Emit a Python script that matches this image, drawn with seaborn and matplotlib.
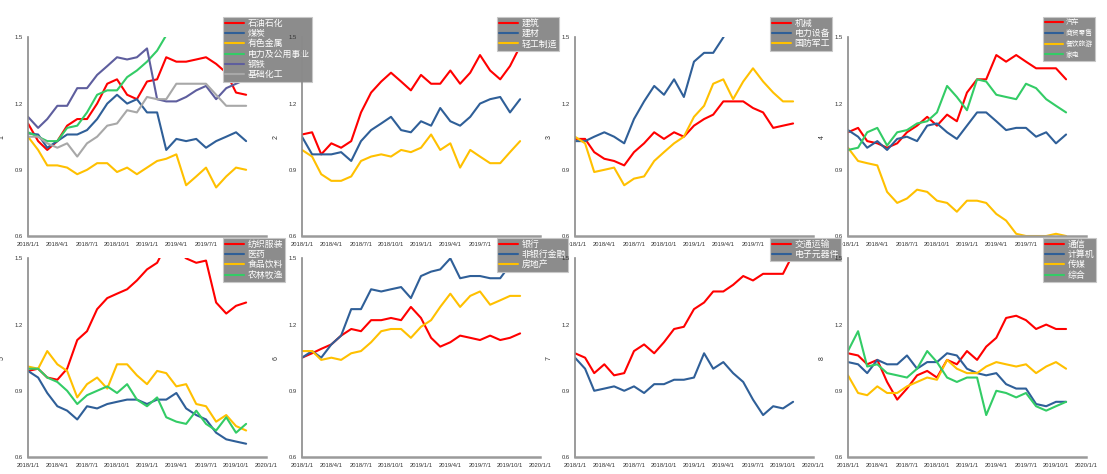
import pandas as pd
import matplotlib
matplotlib.use("Agg")
import matplotlib.pyplot as plt
import matplotlib.dates as mdates
from matplotlib.ticker import FuncFormatter
import seaborn as sns

dates = pd.date_range("2018-01-01", periods=23, freq="MS")

RED = "#ff0000"
BLUE = "#2f5f98"
YELLOW = "#ffc000"
GREEN = "#33cc66"
PURPLE = "#5e5e9e"
GRAY = "#a8a8a8"

# panel 1
p1_names = ["石油石化", "煤炭", "有色金属", "电力及公用事业", "钢铁", "基础化工"]
p1_colors = [RED, BLUE, YELLOW, GREEN, PURPLE, GRAY]
p1_oil = [1.11, 1.03, 0.99, 1.03, 1.10, 1.13, 1.13, 1.20, 1.29, 1.31, 1.24, 1.22,
          1.30, 1.31, 1.41, 1.39, 1.39, 1.40, 1.41, 1.38, 1.34, 1.25, 1.24]
p1_coal = [1.065, 1.06, 1.00, 1.03, 1.06, 1.06, 1.08, 1.13, 1.20, 1.24, 1.20, 1.22,
           1.16, 1.16, 0.99, 1.04, 1.03, 1.04, 1.00, 1.03, 1.05, 1.07, 1.03]
p1_metal = [1.05, 0.99, 0.92, 0.92, 0.91, 0.88, 0.90, 0.93, 0.93, 0.89, 0.91, 0.88,
            0.91, 0.94, 0.95, 0.97, 0.83, 0.87, 0.91, 0.82, 0.87, 0.91, 0.90]
p1_power = [1.07, 1.05, 1.03, 1.03, 1.09, 1.10, 1.16, 1.24, 1.26, 1.26, 1.32, 1.35,
            1.39, 1.44, 1.51, 1.58, 1.60, 1.62, 1.63, 1.60, 1.62, 1.64, 1.62]
p1_steel = [1.14, 1.09, 1.13, 1.19, 1.19, 1.27, 1.27, 1.33, 1.37, 1.41, 1.40, 1.41,
            1.45, 1.22, 1.21, 1.21, 1.23, 1.26, 1.28, 1.22, 1.27, 1.29, 1.31]
p1_chem = [1.05, 1.05, 1.02, 1.00, 1.02, 0.96, 1.02, 1.05, 1.10, 1.11, 1.17, 1.16,
           1.23, 1.22, 1.22, 1.29, 1.29, 1.29, 1.29, 1.24, 1.19, 1.19, 1.19]

# panel 2
p2_names = ["建筑", "建材", "轻工制造"]
p2_colors = [RED, BLUE, YELLOW]
p2_build = [1.06, 1.07, 0.97, 1.02, 1.00, 1.03, 1.16, 1.25, 1.30, 1.34, 1.30, 1.26,
            1.33, 1.29, 1.29, 1.35, 1.29, 1.34, 1.42, 1.35, 1.31, 1.37, 1.46]
p2_material = [1.05, 0.97, 0.97, 0.97, 0.98, 0.94, 1.03, 1.08, 1.11, 1.14, 1.08, 1.07,
               1.12, 1.10, 1.18, 1.12, 1.10, 1.14, 1.20, 1.22, 1.23, 1.16, 1.22]
p2_light = [0.99, 0.96, 0.88, 0.85, 0.85, 0.87, 0.94, 0.96, 0.97, 0.96, 0.99, 0.98,
            1.00, 1.06, 0.99, 1.02, 0.91, 0.99, 0.96, 0.93, 0.93, 0.98, 1.03]

# panel 3
p3_names = ["机械", "电力设备", "国防军工"]
p3_colors = [RED, BLUE, YELLOW]
p3_machine = [1.04, 1.04, 0.98, 0.95, 0.94, 0.92, 0.98, 1.02, 1.07, 1.04, 1.07, 1.05,
              1.10, 1.13, 1.15, 1.21, 1.21, 1.21, 1.18, 1.16, 1.09, 1.10, 1.11]
p3_equip = [1.03, 1.03, 1.05, 1.07, 1.05, 1.02, 1.13, 1.21, 1.28, 1.24, 1.31, 1.23,
            1.39, 1.43, 1.43, 1.50, 1.58, 1.62, 1.66, 1.64, 1.66, 1.70, 1.72]
p3_defense = [1.05, 1.02, 0.89, 0.90, 0.91, 0.83, 0.86, 0.87, 0.94, 0.98, 1.02, 1.05,
              1.14, 1.19, 1.29, 1.31, 1.22, 1.30, 1.36, 1.30, 1.25, 1.21, 1.21]

# panel 4
p4_names = ["汽车", "商贸零售", "餐饮旅游", "家电"]
p4_colors = [RED, BLUE, YELLOW, GREEN]
p4_auto = [1.07, 1.09, 1.03, 1.02, 1.00, 1.02, 1.07, 1.10, 1.14, 1.10, 1.15, 1.12,
           1.25, 1.31, 1.31, 1.42, 1.39, 1.42, 1.39, 1.36, 1.36, 1.36, 1.31]
p4_retail = [1.08, 1.05, 1.00, 1.03, 0.99, 1.04, 1.05, 1.03, 1.10, 1.11, 1.07, 1.04,
             1.10, 1.16, 1.16, 1.12, 1.08, 1.09, 1.09, 1.05, 1.07, 1.02, 1.06]
p4_travel = [1.00, 0.94, 0.93, 0.92, 0.80, 0.75, 0.77, 0.81, 0.80, 0.76, 0.75, 0.71,
             0.76, 0.76, 0.75, 0.70, 0.67, 0.61, 0.60, 0.60, 0.60, 0.61, 0.60]
p4_appliance = [0.99, 1.00, 1.07, 1.09, 1.01, 1.07, 1.08, 1.11, 1.12, 1.16, 1.28, 1.23,
                1.17, 1.31, 1.30, 1.24, 1.23, 1.22, 1.29, 1.27, 1.22, 1.19, 1.16]

# panel 5
p5_names = ["纺织服装", "医药", "食品饮料", "农林牧渔"]
p5_colors = [RED, BLUE, YELLOW, GREEN]
p5_textile = [0.99, 1.00, 0.96, 0.95, 1.00, 1.13, 1.17, 1.27, 1.32, 1.34, 1.36, 1.40,
              1.45, 1.48, 1.56, 1.54, 1.50, 1.48, 1.49, 1.30, 1.25, 1.285, 1.30]
p5_pharma = [0.99, 0.96, 0.89, 0.83, 0.81, 0.77, 0.83, 0.82, 0.84, 0.85, 0.86, 0.86,
             0.84, 0.86, 0.86, 0.89, 0.82, 0.79, 0.77, 0.71, 0.68, 0.67, 0.66]
p5_food = [1.01, 1.00, 1.08, 1.02, 0.99, 0.87, 0.93, 0.96, 0.91, 1.02, 1.02, 0.97,
           0.93, 0.99, 0.98, 0.92, 0.93, 0.84, 0.83, 0.76, 0.79, 0.74, 0.72]
p5_farm = [1.00, 1.00, 0.96, 0.94, 0.90, 0.84, 0.88, 0.90, 0.92, 0.89, 0.93, 0.86,
           0.83, 0.87, 0.78, 0.76, 0.75, 0.81, 0.75, 0.72, 0.78, 0.71, 0.75]

# panel 6
p6_names = ["银行", "非银行金融", "房地产"]
p6_colors = [RED, BLUE, YELLOW]
p6_bank = [1.05, 1.07, 1.09, 1.11, 1.15, 1.18, 1.17, 1.22, 1.22, 1.23, 1.22, 1.28,
           1.23, 1.14, 1.10, 1.12, 1.15, 1.14, 1.13, 1.15, 1.13, 1.14, 1.16]
p6_nonbank = [1.05, 1.08, 1.05, 1.11, 1.15, 1.27, 1.27, 1.36, 1.35, 1.36, 1.37, 1.32,
              1.42, 1.44, 1.45, 1.50, 1.41, 1.42, 1.42, 1.41, 1.41, 1.47, 1.49]
p6_estate = [1.08, 1.08, 1.04, 1.05, 1.04, 1.07, 1.08, 1.12, 1.17, 1.18, 1.18, 1.14,
             1.19, 1.22, 1.28, 1.34, 1.28, 1.33, 1.35, 1.29, 1.31, 1.33, 1.33]

# panel 7
p7_names = ["交通运输", "电子元器件"]
p7_colors = [RED, BLUE]
p7_transport = [1.07, 1.05, 0.98, 1.02, 0.97, 0.98, 1.08, 1.11, 1.07, 1.12, 1.18, 1.19,
                1.27, 1.30, 1.35, 1.35, 1.38, 1.42, 1.40, 1.43, 1.43, 1.43, 1.52]
p7_electronic = [1.05, 1.00, 0.90, 0.91, 0.92, 0.90, 0.92, 0.89, 0.93, 0.93, 0.95, 0.95,
                 0.96, 1.07, 1.00, 1.03, 0.98, 0.94, 0.86, 0.79, 0.83, 0.82, 0.85]

# panel 8
p8_names = ["通信", "计算机", "传媒", "综合"]
p8_colors = [RED, BLUE, YELLOW, GREEN]
p8_telecom = [1.07, 1.06, 1.02, 1.04, 0.94, 0.86, 0.91, 0.97, 0.99, 0.96, 1.04, 1.02,
              1.08, 1.04, 1.10, 1.14, 1.23, 1.24, 1.22, 1.18, 1.20, 1.18, 1.18]
p8_computer = [1.03, 1.02, 0.98, 1.04, 1.02, 1.02, 1.06, 1.00, 1.03, 1.03, 1.07, 1.06,
               1.00, 0.98, 0.97, 0.98, 0.93, 0.91, 0.91, 0.84, 0.83, 0.85, 0.85]
p8_media = [0.97, 0.89, 0.88, 0.92, 0.89, 0.89, 0.92, 0.94, 0.96, 0.95, 1.04, 1.00,
            0.98, 0.98, 1.01, 1.03, 1.02, 1.01, 1.02, 0.98, 1.01, 1.03, 1.00]
p8_misc = [1.08, 1.17, 1.01, 1.02, 0.98, 0.97, 0.96, 1.00, 1.08, 1.03, 0.96, 0.94,
           0.96, 0.96, 0.79, 0.90, 0.89, 0.87, 0.89, 0.83, 0.81, 0.83, 0.85]

panels = [
    ("1", p1_names, p1_colors, [p1_oil, p1_coal, p1_metal, p1_power, p1_steel, p1_chem]),
    ("2", p2_names, p2_colors, [p2_build, p2_material, p2_light]),
    ("3", p3_names, p3_colors, [p3_machine, p3_equip, p3_defense]),
    ("4", p4_names, p4_colors, [p4_auto, p4_retail, p4_travel, p4_appliance]),
    ("5", p5_names, p5_colors, [p5_textile, p5_pharma, p5_food, p5_farm]),
    ("6", p6_names, p6_colors, [p6_bank, p6_nonbank, p6_estate]),
    ("7", p7_names, p7_colors, [p7_transport, p7_electronic]),
    ("8", p8_names, p8_colors, [p8_telecom, p8_computer, p8_media, p8_misc]),
]

sns.set_style("white")
plt.rcParams["font.family"] = ["Liberation Sans", "DejaVu Sans"]
CJK = ["Noto Sans CJK SC", "DejaVu Sans"]

fig = plt.figure(figsize=(11.07, 4.74), dpi=100)

col_left = [0.0253, 0.2728, 0.5194, 0.7660]
row_bottom = [0.5021, 0.0359]
ax_w, ax_h = 0.215, 0.419


def date_fmt(x, pos):
    d = mdates.num2date(x)
    return f"{d.year}/{d.month}/{d.day}"


for i, (ylab, names, colors, series) in enumerate(panels):
    r, c = divmod(i, 4)
    ax = fig.add_axes([col_left[c], row_bottom[r], ax_w, ax_h])
    ax.set_facecolor("none")
    for name, color, vals in zip(names, colors, series):
        sns.lineplot(x=dates, y=vals, color=color, label=name, linewidth=1.5, ax=ax)

    ax.set_xlim(pd.Timestamp("2018-01-01"), pd.Timestamp("2020-01-01"))
    ax.set_ylim(0.6, 1.5)
    ax.set_yticks([0.6, 0.9, 1.2, 1.5])
    ax.set_yticks([0.75, 1.05, 1.35], minor=True)
    ax.yaxis.set_major_formatter(FuncFormatter(lambda v, p: f"{v:.1f}"))
    ax.xaxis.set_major_locator(mdates.MonthLocator(bymonth=[1, 4, 7, 10]))
    ax.xaxis.set_minor_locator(mdates.MonthLocator())
    ax.xaxis.set_major_formatter(FuncFormatter(date_fmt))

    for s in ["top", "right"]:
        ax.spines[s].set_visible(False)
    ax.spines["left"].set_color("#8a8a8a")
    ax.spines["left"].set_linewidth(1.2)
    ax.spines["bottom"].set_color("#9a9a9a")
    ax.spines["bottom"].set_linewidth(1.8)

    ax.tick_params(axis="both", which="major", labelsize=4.2, length=2.5, width=0.6,
                   colors="#555555", labelcolor="#333333", pad=1.5, direction="out")
    ax.tick_params(axis="both", which="minor", length=1.5, width=0.5,
                   colors="#555555", direction="out")
    ax.set_xlabel("")
    ax.set_ylabel(ylab, fontsize=5, color="#333333", labelpad=6)

    # the last top-right legend is squeezed to stay inside the figure
    if i == 3:
        fs, hl, ls = 4.9, 2.7, 0.42
    else:
        fs, hl, ls = 6.4, 2.1, 0.15
    leg = ax.legend(loc="upper left", bbox_to_anchor=(0.82, 1.105), borderaxespad=0,
                    frameon=True, fancybox=False, facecolor="#8c8c8c", edgecolor="#c8c8c8",
                    framealpha=1, prop={"family": CJK, "size": fs},
                    handlelength=hl, handletextpad=0.4, labelspacing=ls, borderpad=0.25)
    leg.get_frame().set_linewidth(0.8)
    for t in leg.get_texts():
        t.set_color("white")

fig.savefig("out.png", dpi=100)
